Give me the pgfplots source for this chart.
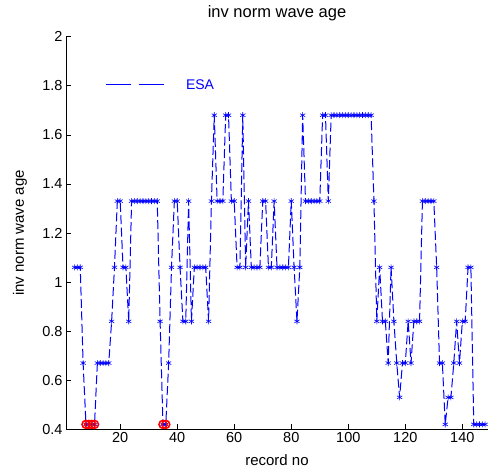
\documentclass[border=0pt]{standalone}
\usepackage{fontspec}
\setmainfont{Liberation Sans}
\usepackage{pgfplots}
\pgfplotsset{compat=1.18}
\definecolor{mblue}{RGB}{0,0,255}
\definecolor{mred}{RGB}{255,0,0}
\begin{document}
\begin{tikzpicture}
\useasboundingbox (-66bp,-38.7bp) rectangle (423bp,429.3bp);
\begin{axis}[
  at={(0,0)}, anchor=south west,
  scale only axis, width=422bp, height=392.6bp,
  xmin=1, xmax=149, ymin=0.4, ymax=2,
  axis x line*=bottom, axis y line*=left,
  axis line style={-, line width=0.6bp},
  tick align=inside, major tick length=5bp,
  tick style={black, line width=0.6bp},
  xtick={20,40,60,80,100,120,140},
  ytick={0.4,0.6,0.8,1,1.2,1.4,1.6,1.8,2},
  /pgf/number format/assume math mode=true,
  ticklabel style={font=\fontsize{14.5bp}{16bp}\selectfont},
  label style={font=\fontsize{15bp}{17bp}\selectfont},
  every axis title/.style={font=\fontsize{16.5bp}{18bp}\selectfont, at={(axis description cs:0.5,1.0586)}, anchor=center},
  title={inv norm wave age},
  xlabel={record no},
  ylabel={inv norm wave age},
  xlabel style={at={(axis description cs:0.5,-0.079)}, anchor=center},
  ylabel style={at={(axis description cs:-0.109,0.5)}, anchor=center},
  clip=true,
  legend style={draw=none, fill=none, at={(axis description cs:0.092,0.877)}, anchor=west,
    font=\fontsize{14bp}{16bp}\selectfont, text=mblue, inner sep=0pt},
  legend cell align=left,
]
\addplot[mblue, line width=1bp, dash pattern=on 9pt off 3.5pt,
  mark=asterisk, mark size=3bp, mark options={solid, line width=0.6bp},
  legend image code/.code={\draw[mblue, solid, line width=1bp] (0bp,0bp) -- (25bp,0bp); \draw[mblue, solid, line width=1bp] (33bp,0bp) -- (58bp,0bp); \path (78bp,0bp);}]
table {
x y
4 1.06
5 1.06
6 1.06
7 0.67
8 0.42
9 0.42
10 0.42
11 0.42
12 0.67
13 0.67
14 0.67
15 0.67
16 0.67
17 0.84
18 1.06
19 1.33
20 1.33
21 1.06
22 1.06
23 0.84
24 1.33
25 1.33
26 1.33
27 1.33
28 1.33
29 1.33
30 1.33
31 1.33
32 1.33
33 1.33
34 0.84
35 0.42
36 0.42
37 0.67
38 1.06
39 1.33
40 1.33
41 1.06
42 0.84
43 0.84
44 1.33
45 0.84
46 1.06
47 1.06
48 1.06
49 1.06
50 1.06
51 0.84
52 1.33
53 1.68
54 1.33
55 1.33
56 1.33
57 1.68
58 1.68
59 1.33
60 1.33
61 1.06
62 1.06
63 1.68
64 1.06
65 1.33
66 1.06
67 1.06
68 1.06
69 1.06
70 1.33
71 1.33
72 1.06
73 1.06
74 1.33
75 1.06
76 1.06
77 1.06
78 1.06
79 1.06
80 1.33
81 1.06
82 0.84
83 1.06
84 1.68
85 1.33
86 1.33
87 1.33
88 1.33
89 1.33
90 1.33
91 1.68
92 1.68
93 1.33
94 1.68
95 1.68
96 1.68
97 1.68
98 1.68
99 1.68
100 1.68
101 1.68
102 1.68
103 1.68
104 1.68
105 1.68
106 1.68
107 1.68
108 1.68
109 1.33
110 0.84
111 1.06
112 0.84
113 0.84
114 0.67
115 1.06
116 0.84
117 0.67
118 0.53
119 0.67
120 0.67
121 0.84
122 0.67
123 0.84
124 0.84
125 0.84
126 1.33
127 1.33
128 1.33
129 1.33
130 1.33
131 1.06
132 0.67
133 0.67
134 0.42
135 0.53
136 0.53
137 0.67
138 0.84
139 0.67
140 0.84
141 0.84
142 1.06
143 1.06
144 0.42
145 0.42
146 0.42
147 0.42
148 0.42
};
\addlegendentry{ESA}
\addplot[only marks, mark=o, mred, mark size=4bp, mark options={line width=1.5bp}, forget plot]
table {
x y
8 0.42
9 0.42
10 0.42
11 0.42
35 0.42
36 0.42
};
\end{axis}
\end{tikzpicture}
\end{document}
